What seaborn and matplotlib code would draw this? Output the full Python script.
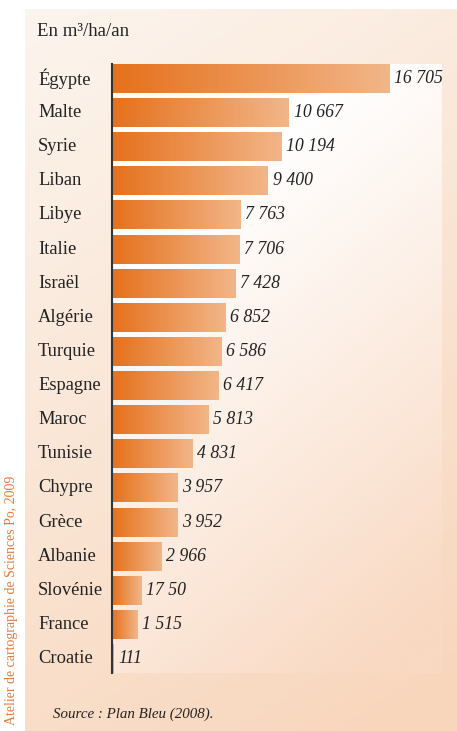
import numpy as np
import pandas as pd
import matplotlib
matplotlib.use("Agg")
import matplotlib.pyplot as plt
import matplotlib.transforms as mtransforms
from matplotlib.colors import LinearSegmentedColormap
import seaborn as sns

# données (m3/ha/an)
pays = ["Égypte", "Malte", "Syrie", "Liban", "Libye", "Italie", "Israël", "Algérie",
        "Turquie", "Espagne", "Maroc", "Tunisie", "Chypre", "Grèce", "Albanie",
        "Slovénie", "France", "Croatie"]
valeurs = [16705, 10667, 10194, 9400, 7763, 7706, 7428, 6852, 6586, 6417, 5813,
           4831, 3957, 3952, 2966, 1750, 1515, 111]
etiquettes = ["16 705", "10 667", "10 194", "9 400", "7 763", "7 706", "7 428", "6 852",
              "6 586", "6 417", "5 813", "4 831", "3 957", "3 952", "2 966", "17 50",
              "1 515", "111"]

df = pd.DataFrame({"Pays": pays, "Valeur": valeurs})

sns.set_theme(style="white")
plt.rcParams["font.family"] = ["Liberation Serif", "DejaVu Serif"]

W, H = 457, 731
fig = plt.figure(figsize=(W / 100, H / 100), dpi=100)
fig.patch.set_facecolor("white")

# fond de la carte (dégradé crème -> pêche)
bg = fig.add_axes([25 / W, 0, (W - 25) / W, (H - 9) / H], zorder=-10)
gx, gy = np.meshgrid(np.linspace(0, 1, 200), np.linspace(0, 1, 300))
t = np.clip(0.75 * gy + 0.3 * gx, 0, 1)
cmap_bg = LinearSegmentedColormap.from_list("bg", ["#fcf5ee", "#f8d6bc"])
bg.imshow(t, cmap=cmap_bg, aspect="auto", extent=[0, 1, 1, 0], vmin=0, vmax=1)
bg.set_axis_off()

# zone du graphique
x0, x1, y0, y1 = 112, 442, 64, 673
ax = fig.add_axes([x0 / W, 1 - y1 / H, (x1 - x0) / W, (y1 - y0) / H])
ax.set_facecolor("none")

sns.barplot(data=df, x="Valeur", y="Pays", orient="h", width=0.85,
            color="#e8823a", ax=ax, zorder=3)

xmax = 19900
n = len(pays)
ax.set_xlim(0, xmax)
ax.set_ylim(n - 1 + 0.425, -0.425)

# dégradé du panneau (blanc en bas à gauche, pêche en haut à droite)
px, py = np.meshgrid(np.linspace(0, 1, 200), np.linspace(0, 1, 300))
tp = np.clip(0.45 * px + 1.0 * (1 - py) - 0.35, 0, 1)
cmap_panel = LinearSegmentedColormap.from_list("panel", ["#ffffff", "#f9d9c2"])
ax.imshow(tp, cmap=cmap_panel, aspect="auto", origin="lower",
          extent=[0, xmax, n - 1 + 0.425, -0.425], vmin=0, vmax=1, zorder=0)

# dégradé orange dans chaque barre
cmap_bar = LinearSegmentedColormap.from_list("barre", ["#e5711c", "#f2b689"])
grad = np.linspace(0, 1, 256).reshape(1, -1)
for patch in ax.patches:
    bx, by = patch.get_x(), patch.get_y()
    bw, bh = patch.get_width(), patch.get_height()
    patch.set_facecolor("none")
    patch.set_edgecolor("none")
    im = ax.imshow(grad, cmap=cmap_bar, aspect="auto",
                   extent=[bx, bx + bw, by + bh, by], zorder=2)
    im.set_clip_path(patch)

ax.set_xlim(0, xmax)
ax.set_ylim(n - 1 + 0.425, -0.425)

# valeurs
for i, (v, lab) in enumerate(zip(valeurs, etiquettes)):
    ax.text(v + 280, i, lab, va="center", ha="left", fontsize=12.8,
            style="italic", color="#222222", zorder=4)

# noms des pays
trans = mtransforms.blended_transform_factory(fig.transFigure, ax.transData)
for i, p in enumerate(pays):
    ax.text(38 / W, i, p, transform=trans, va="center", ha="left",
            fontsize=13.3, color="#222222")

ax.set_xticks([])
ax.set_yticks([])
ax.set_xlabel("")
ax.set_ylabel("")
for s in ["top", "right", "bottom"]:
    ax.spines[s].set_visible(False)
ax.spines["left"].set_color("#333333")
ax.spines["left"].set_linewidth(1.5)
ax.spines["left"].set_zorder(5)

# textes
fig.text(37 / W, 1 - 31 / H, "En m³/ha/an", fontsize=13.5, va="center",
         ha="left", color="#222222")
fig.text(53 / W, 1 - 714 / H, "Source : Plan Bleu (2008).", fontsize=10.8,
         style="italic", va="center", ha="left", color="#222222")
fig.text(12 / W, 1 - 600 / H, "Atelier de cartographie de Sciences Po, 2009",
         fontsize=10, rotation=90, va="center", ha="center", color="#e27a3c")

fig.savefig("out.png", dpi=100)
